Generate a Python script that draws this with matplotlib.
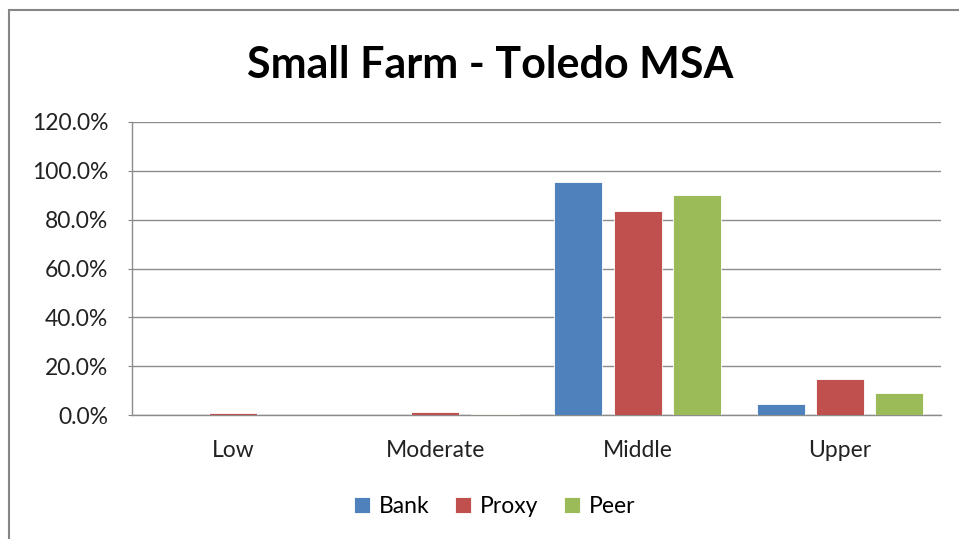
import matplotlib.pyplot as plt
import numpy as np
from matplotlib.patches import Rectangle
from matplotlib.ticker import PercentFormatter

# Income level categories and shares of small farm loans (%)
categories = ["Low", "Moderate", "Middle", "Upper"]
bank = [0.0, 0.0, 95.6, 4.4]
proxy = [0.7, 1.2, 83.6, 14.9]
peer = [0.0, 0.6, 90.0, 9.0]

series_names = ["Bank", "Proxy", "Peer"]
colors = ["#4F81BD", "#C0504D", "#9BBB59"]

plt.rcParams['font.family'] = ['Lato', 'DejaVu Sans']

fig = plt.figure(figsize=(9.59, 5.39), dpi=100)
ax = fig.add_axes([0.1377, 0.230, 0.8435, 0.5437])

# chart frame
fig.patches.append(Rectangle((9 / 959, -0.05), 1.1, 1 - 10 / 539 + 0.05,
                             transform=fig.transFigure, fill=False,
                             edgecolor="#868686", linewidth=1.5))

x = np.arange(len(categories))
width = 0.237
step = 0.293
for i, (name, vals) in enumerate(zip(series_names, [bank, proxy, peer])):
    ax.bar(x + (i - 1) * step, vals, width, color=colors[i], label=name,
           edgecolor="white", linewidth=0.6, zorder=3)

ax.set_xlim(-0.5, len(categories) - 0.5)
ax.set_ylim(0, 120)
ax.set_yticks(np.arange(0, 121, 20))
ax.yaxis.set_major_formatter(PercentFormatter(decimals=1))
ax.set_xticks(x)
ax.set_xticklabels(categories)
ax.tick_params(axis="x", length=0, labelsize=16.5, pad=18, colors="#222222")
ax.tick_params(axis="y", length=3, labelsize=16.5, pad=14, colors="#868686",
               labelcolor="#222222")
ax.grid(axis="y", color="#8c8c8c", linewidth=1, zorder=0)

for side in ["top", "right"]:
    ax.spines[side].set_visible(False)
for side in ["left", "bottom"]:
    ax.spines[side].set_color("#8c8c8c")
    ax.spines[side].set_linewidth(1)

fig.text(0.511, 0.880, "Small Farm - Toledo MSA", ha="center", va="center",
         fontsize=31, fontweight="bold")

fig.legend(loc="center", bbox_to_anchor=(0.516, 0.06), ncol=3, frameon=False,
           fontsize=16.5, handlelength=0.7, handleheight=0.7, handletextpad=0.4,
           columnspacing=1.1)

fig.savefig("out.png", dpi=100)
